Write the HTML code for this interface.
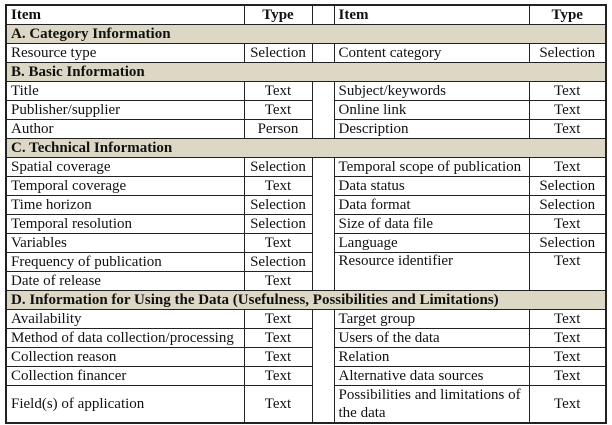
<!DOCTYPE html>
<html><head><style>
body{margin:0;background:#fff;}
table{position:absolute;left:5px;top:4px;border-collapse:collapse;table-layout:fixed;font-family:"Liberation Serif",serif;font-size:15px;color:#111;border:2px solid #222;}
td{border:1px solid #222;padding:0 2px 0 4px;height:18px;line-height:17px;white-space:nowrap;overflow:hidden;}
td.t{text-align:center;padding:0 1px;}
td.g{padding:0;}
tr.s td{background:#ddd8c6;font-weight:bold;}
tr.h td{font-weight:bold;}
</style></head><body>
<table>
<colgroup><col style="width:238px"><col style="width:68px"><col style="width:22px"><col style="width:195px"><col style="width:77px"></colgroup>
<tr class="h"><td>Item</td><td class="t">Type</td><td class="g"></td><td>Item</td><td class="t">Type</td></tr>
<tr class="s"><td colspan="5">A. Category Information</td></tr>
<tr><td>Resource type</td><td class="t">Selection</td><td class="g"></td><td>Content category</td><td class="t">Selection</td></tr>
<tr class="s"><td colspan="5">B. Basic Information</td></tr>
<tr><td>Title</td><td class="t">Text</td><td class="g" rowspan="3"></td><td>Subject/keywords</td><td class="t">Text</td></tr>
<tr><td>Publisher/supplier</td><td class="t">Text</td><td>Online link</td><td class="t">Text</td></tr>
<tr><td>Author</td><td class="t">Person</td><td>Description</td><td class="t">Text</td></tr>
<tr class="s"><td colspan="5">C. Technical Information</td></tr>
<tr><td>Spatial coverage</td><td class="t">Selection</td><td class="g" rowspan="7"></td><td>Temporal scope of publication</td><td class="t">Text</td></tr>
<tr><td>Temporal coverage</td><td class="t">Text</td><td>Data status</td><td class="t">Selection</td></tr>
<tr><td>Time horizon</td><td class="t">Selection</td><td>Data format</td><td class="t">Selection</td></tr>
<tr><td>Temporal resolution</td><td class="t">Selection</td><td>Size of data file</td><td class="t">Text</td></tr>
<tr><td>Variables</td><td class="t">Text</td><td>Language</td><td class="t">Selection</td></tr>
<tr><td>Frequency of publication</td><td class="t">Selection</td><td rowspan="2" style="vertical-align:top">Resource identifier</td><td class="t" rowspan="2" style="vertical-align:top">Text</td></tr>
<tr><td>Date of release</td><td class="t">Text</td></tr>
<tr class="s"><td colspan="5">D. Information for Using the Data (Usefulness, Possibilities and Limitations)</td></tr>
<tr><td>Availability</td><td class="t">Text</td><td class="g" rowspan="5"></td><td>Target group</td><td class="t">Text</td></tr>
<tr><td>Method of data collection/processing</td><td class="t">Text</td><td>Users of the data</td><td class="t">Text</td></tr>
<tr><td>Collection reason</td><td class="t">Text</td><td>Relation</td><td class="t">Text</td></tr>
<tr><td>Collection financer</td><td class="t">Text</td><td>Alternative data sources</td><td class="t">Text</td></tr>
<tr><td style="height:36px">Field(s) of application</td><td class="t">Text</td><td style="white-space:normal;line-height:18px">Possibilities and limitations of the data</td><td class="t">Text</td></tr>
</table>
</body></html>
